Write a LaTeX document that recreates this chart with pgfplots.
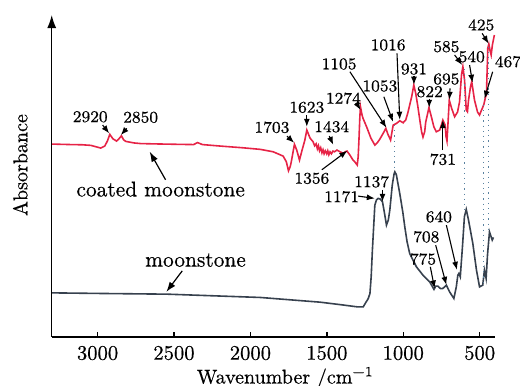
\documentclass[border=0pt]{standalone}
\usepackage{fontspec}
\setmainfont{Latin Modern Roman}[FakeBold=0.5]
\usepackage{pgfplots}
\pgfplotsset{compat=1.18}
\usetikzlibrary{arrows.meta}
\definecolor{redc}{RGB}{230,35,70}
\definecolor{grayc}{RGB}{55,65,78}
\definecolor{dotc}{RGB}{90,130,160}
\tikzset{
  ann/.style={-{Latex[length=4pt,width=3pt]}, line width=0.55pt},
  annb/.style={font=\fontsize{8.2}{9}\selectfont, inner sep=0pt},
}
\begin{document}
\begin{tikzpicture}
\useasboundingbox (-25.85pt,-24.15pt) rectangle (234pt,168.35pt);
\begin{axis}[
  scale only axis, width=221.5pt, height=160.85pt,
  xmin=400, xmax=3300, ymin=0, ymax=321.7,
  x dir=reverse,
  axis lines=left,
  x axis line style={-},
  y axis line style={-{Latex[length=6.5pt,width=4.5pt]}},
  axis line style={line width=0.7pt},
  xtick={500,1000,1500,2000,2500,3000}, ytick=\empty,
  tick align=inside, major tick length=2.5pt,
  tick style={black, line width=0.7pt},
  xticklabel style={font=\fontsize{10.3}{12}\selectfont, yshift=-1pt},
  /pgf/number format/1000 sep={},
  /pgf/number format/assume math mode=true,
  clip=false,
]
\addplot[redc, line width=0.8pt] coordinates {
(3298,192.7) (3174,192.2) (3100,192.0) (3044,191.4) (2979,188.7) (2953,190.7)
(2935,196) (2920,202.4) (2900,198) (2876,195.7) (2860,198) (2844,201) (2830,197)
(2816,195.4) (2760,193.8) (2718,193.2) (2600,192.8) (2457,192.4) (2372,192.2)
(2346,194.2) (2314,192.2) (2196,190.7) (2050,189) (1935,187.4) (1851,185)
(1786,180.7) (1765,175) (1751,166) (1740,170) (1733,174.7) (1712,192.4)
(1697,186.7) (1679,176.7) (1662,186.7) (1645,196) (1631,206.7) (1610,198.7)
(1590,195) (1580,191) (1570,193) (1562,188) (1555,191) (1548,186) (1540,189)
(1532,184) (1525,187) (1518,183) (1510,186) (1501,183) (1494,186) (1487,182)
(1479,185) (1470,183) (1460,185.7) (1450,185) (1434,186.7) (1414,185) (1400,184)
(1390,183.7) (1380,185) (1368,185.7) (1349,181.7) (1330,177) (1316,174.7)
(1301,171.7) (1295,180) (1290,196.7) (1284,220) (1280,230) (1270,222) (1264,218.7)
(1240,210) (1212,198.7) (1186,191.7) (1170,194) (1153,197.7) (1127,204.7)
(1114,208.4) (1101,202.7) (1083,196.7) (1066,211.7) (1044,213.4) (1023,216)
(1001,214) (984,216.7) (970,224) (958,231.7) (945,240) (931,251.7) (918,243)
(906,231.7) (890,215) (880,205) (871,199.7) (860,205) (853,214.7) (832,229.2)
(814,218.7) (800,210) (784,205) (762,206.7) (750,212) (741,216.7) (733,214)
(726,211.7) (720,200) (714,195.7) (708,211.7) (699,236.7) (684,228.7) (664,220)
(645,224.7) (632,234.7) (619,261.7) (610,270) (599,256.7) (588,226.7) (580,225)
(573,236.7) (560,250) (552,255) (545,248) (534,236.7) (514,224.7) (501,221.7)
(490,226) (482,228.7) (472,232.7) (462,239.7) (456,241.7) (447,288.4) (440,292.7)
(433,286.7) (425,281.7) (417,291.7) (404,301.7)
};
\addplot[grayc, line width=0.8pt] coordinates {
(3298,44) (2979,43.4) (2544,42.7) (1935,39.4) (1544,34.7) (1400,32) (1300,30)
(1262,30) (1244,34.7) (1230,38) (1218,43.4) (1210,60) (1202,86.7) (1186,131.7)
(1175,137) (1164,138.4) (1150,137.7) (1136,135) (1124,124.7) (1110,111.7)
(1098,116.7) (1088,126.7) (1072,151.7) (1060,163) (1055,165) (1045,162)
(1039,156.7) (1023,143.4) (1003,124.7) (990,110) (975,95) (958,83.4) (914,70)
(871,61.7) (827,55) (799,47.4) (788,50.7) (773,50.7) (756,48.2) (741,48.4)
(718,51.7) (697,45) (669,38.4) (653,50) (643,61.7) (636,63.4) (627,60) (612,91.7)
(600,120) (588,127.4) (573,116.7) (545,93.4) (521,66.7) (501,50) (480,51.7)
(469,66.7) (458,58.4) (449,81.7) (436,105) (418,96.7) (410,99.4)
};
% dotted guide lines
\draw[dotc, dotted, line width=0.6pt] (1055,211.7) -- (1055,165);
\draw[dotc, dotted, line width=0.6pt] (599,268) -- (599,124);
\draw[dotc, dotted, line width=0.6pt] (475,232) -- (475,52);
\draw[dotc, dotted, line width=0.6pt] (443,290) -- (443,103);
% red annotations
\node[annb] at (3048,220) {2920};
\draw[ann] (2967,211.7) -- (2924,203.4);
\node[annb] at (2718,219.4) {2850};
\draw[ann] (2809,208.4) -- (2848,201.7);
\node[font=\fontsize{10.7}{12}\selectfont, inner sep=0pt] at (2587,147.7) {coated moonstone};
\draw[-{Latex[length=5pt,width=3.5pt]}, line width=0.6pt] (2555,157) -- (2659,185);
\node[annb] at (1859,209.4) {1703};
\draw[ann] (1761,200.7) -- (1714,194);
\node[annb] at (1631,229.4) {1623};
\draw[ann] (1631,221.7) -- (1631,210);
\node[annb] at (1468,210) {1434};
\draw[ann] (1484,200.7) -- (1458,192);
\node[annb] at (1598,158.4) {1356};
\draw[ann] (1533,167) -- (1366,186);
\node[annb] at (1392,238.4) {1274};
\draw[ann] (1305,233.4) -- (1279,226.7);
\node[annb] at (1420,272.7) {1105};
\draw[ann] (1349,265) -- (1110,209);
\node[annb] at (1153,250.7) {1053};
\draw[ann] (1127,240) -- (1067,215);
\node[annb] at (1099,291.7) {1016};
\draw[ann] (1041,283.4) -- (1023,217);
\node[annb] at (930,267.7) {931};
\draw[ann] (930,261) -- (930,252);
\node[annb] at (827,245) {822};
\draw[ann] (830,238) -- (830,229);
\node[annb] at (718,257.7) {695};
\draw[ann] (694,248.4) -- (698,237);
\node[annb] at (741,177.4) {731};
\draw[ann] (741,186.7) -- (741,216.7);
\node[annb] at (718,290) {585};
\draw[ann] (664,281.7) -- (614,271.7);
\node[annb] at (552,280) {540};
\draw[ann] (566,271.7) -- (547,254);
\node[annb] at (490,311.7) {425};
\draw[ann] (484,303.4) -- (441,293);
\node[annb] at (315,275) {467};
\draw[ann] (415,265) -- (469,238);
% gray annotations
\node[font=\fontsize{10.7}{12}\selectfont, inner sep=0pt] at (2359,76.7) {moonstone};
\draw[-{Latex[length=5pt,width=3.5pt]}, line width=0.6pt] (2446,66) -- (2550,45);
\node[annb] at (1403,140) {1171};
\draw[ann] (1295,140.7) -- (1186,138.4);
\node[annb] at (1207,155) {1137};
\draw[ann] (1136,147) -- (1136,135);
\node[annb] at (767,120) {640};
\draw[ann] (718,111.7) -- (649,67);
\node[annb] at (849,100) {708};
\draw[ann] (788,91.7) -- (718,52);
\node[annb] at (871,77.7) {775};
\draw[ann] (823,70) -- (795,48.4);
% axis labels
\node[rotate=90, font=\fontsize{10}{12}\selectfont] at (3506,171.7) {Absorbance};
\node[anchor=base, font=\fontsize{10}{12}\selectfont] at (1772,-46.6) {Wavenumber /cm\textsuperscript{\char"2212 1}};
\end{axis}
\end{tikzpicture}
\end{document}
